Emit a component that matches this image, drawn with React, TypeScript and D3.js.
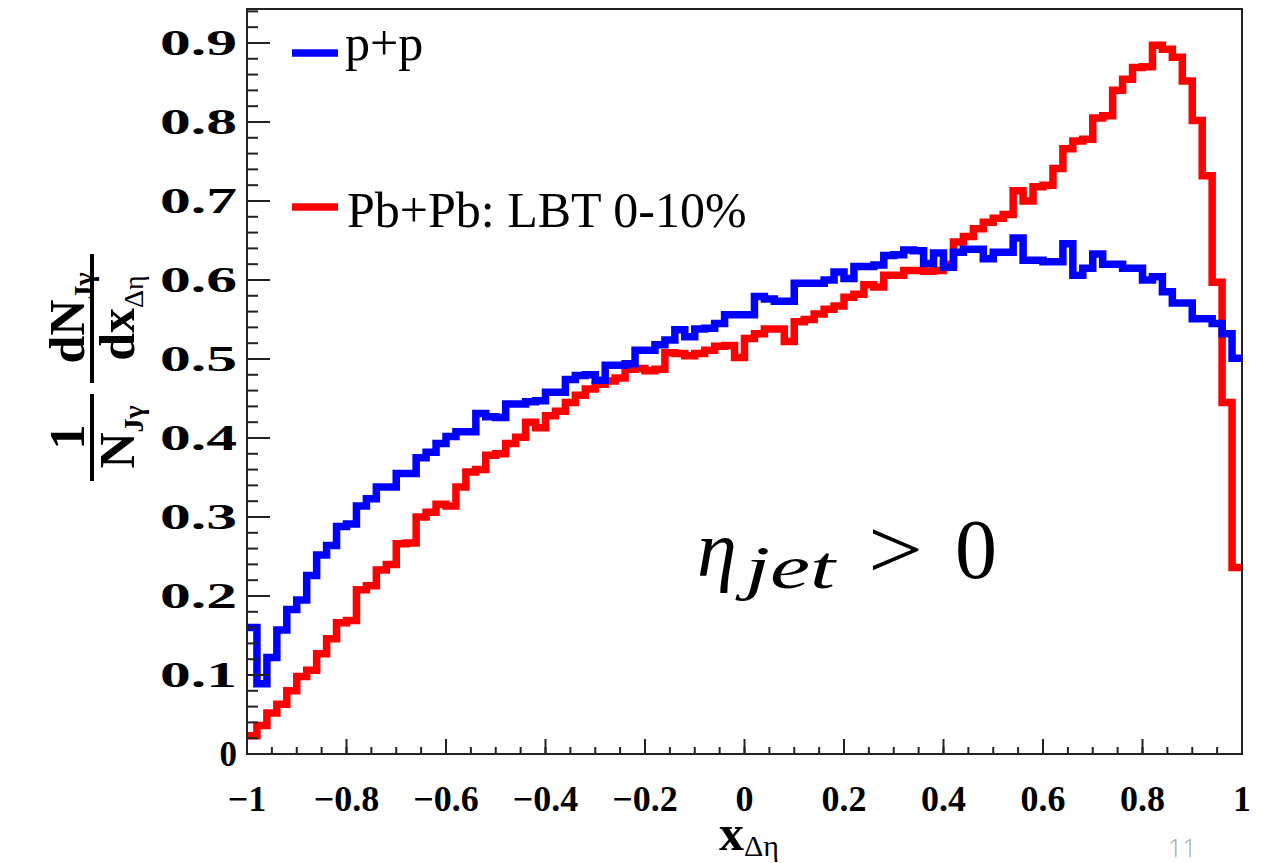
import React from 'react';
import * as d3 from 'd3';

// ---- data ----
const X_MIN = -1;
const X_MAX = 1;
const N_BINS = 100;

const xTickValues = [-1, -0.8, -0.6, -0.4, -0.2, 0, 0.2, 0.4, 0.6, 0.8, 1];
const xTickLabels = ['\u22121', '\u22120.8', '\u22120.6', '\u22120.4', '\u22120.2', '0', '0.2', '0.4', '0.6', '0.8', '1'];
const yTickValues = [0, 0.1, 0.2, 0.3, 0.4, 0.5, 0.6, 0.7, 0.8, 0.9];
const yTickLabels = ['0', '0.1', '0.2', '0.3', '0.4', '0.5', '0.6', '0.7', '0.8', '0.9'];

const seriesNames = ['p+p', 'Pb+Pb: LBT 0-10%'];

const ppValues = [
  0.160, 0.089, 0.122, 0.157, 0.183, 0.195, 0.226, 0.252, 0.264, 0.288,
  0.291, 0.314, 0.323, 0.338, 0.338, 0.355, 0.355, 0.375, 0.382, 0.393,
  0.402, 0.408, 0.408, 0.431, 0.427, 0.426, 0.443, 0.443, 0.446, 0.447,
  0.458, 0.458, 0.474, 0.479, 0.480, 0.473, 0.492, 0.492, 0.494, 0.511,
  0.511, 0.518, 0.524, 0.537, 0.528, 0.538, 0.539, 0.545, 0.556, 0.556,
  0.556, 0.579, 0.576, 0.573, 0.573, 0.596, 0.596, 0.596, 0.600, 0.610,
  0.602, 0.617, 0.617, 0.619, 0.631, 0.632, 0.638, 0.637, 0.621, 0.634,
  0.616, 0.635, 0.639, 0.639, 0.627, 0.635, 0.635, 0.653, 0.625, 0.625,
  0.623, 0.623, 0.646, 0.606, 0.615, 0.633, 0.620, 0.620, 0.615, 0.615,
  0.600, 0.604, 0.585, 0.571, 0.571, 0.551, 0.551, 0.545, 0.532, 0.501,
];

const pbpbValues = [
  0.023, 0.036, 0.052, 0.063, 0.080, 0.098, 0.106, 0.127, 0.146, 0.166,
  0.169, 0.208, 0.213, 0.233, 0.240, 0.266, 0.267, 0.300, 0.306, 0.316,
  0.314, 0.338, 0.357, 0.360, 0.378, 0.380, 0.393, 0.401, 0.420, 0.413,
  0.428, 0.434, 0.445, 0.454, 0.462, 0.468, 0.472, 0.476, 0.487, 0.488,
  0.485, 0.487, 0.508, 0.507, 0.504, 0.507, 0.511, 0.516, 0.517, 0.502,
  0.526, 0.532, 0.538, 0.538, 0.522, 0.547, 0.550, 0.557, 0.563, 0.567,
  0.578, 0.582, 0.594, 0.591, 0.606, 0.606, 0.612, 0.612, 0.611, 0.612,
  0.620, 0.648, 0.655, 0.665, 0.673, 0.678, 0.683, 0.713, 0.700, 0.718,
  0.720, 0.741, 0.766, 0.776, 0.778, 0.805, 0.808, 0.840, 0.854, 0.869,
  0.870, 0.897, 0.892, 0.882, 0.852, 0.802, 0.732, 0.597, 0.445, 0.236,
];

const BLUE = '#0000ff';
const RED = '#ff0000';

export default function App() {
  const W = 1273;
  const H = 863;
  const left = 247, right = 1242, top = 9, bottom = 754;

  const x = d3.scaleLinear().domain([X_MIN, X_MAX]).range([left, right]);
  const y = d3.scaleLinear().domain([0, 0.943]).range([bottom, top]);

  const edges = d3.range(N_BINS + 1).map((i) => X_MIN + (i * (X_MAX - X_MIN)) / N_BINS);
  const stepPts = (vals: number[]) =>
    vals.flatMap((v, i) => [[edges[i], v], [edges[i + 1], v]] as [number, number][]);
  const line = d3
    .line<[number, number]>()
    .x((d) => x(d[0]))
    .y((d) => y(d[1]));

  const yMinor = d3.range(0, 0.9401, 0.02);
  const xMinor = d3.range(-1, 1.0001, 0.05);

  const serif = '"Liberation Serif", "Times New Roman", serif';

  return (
    <svg
      width={W}
      height={H}
      viewBox={`0 0 ${W} ${H}`}
      style={{ position: 'absolute', left: 0, top: 0, background: '#fff', display: 'block' }}
      fontFamily={serif}
    >
      <rect x={0} y={0} width={W} height={H} fill="#fff" />

      {/* histograms */}
      <path d={line(stepPts(pbpbValues)) || ''} fill="none" stroke={RED} strokeWidth={7.5} strokeLinejoin="miter" />
      <path d={line(stepPts(ppValues)) || ''} fill="none" stroke={BLUE} strokeWidth={7.5} strokeLinejoin="miter" />

      {/* frame */}
      <rect x={left} y={top} width={right - left} height={bottom - top} fill="none" stroke="#222" strokeWidth={2} />

      {/* y ticks */}
      {yMinor.map((v, i) => (
        <line key={'ym' + i} x1={left} x2={left + 11} y1={y(v)} y2={y(v)} stroke="#222" strokeWidth={2} />
      ))}
      {yTickValues.map((v, i) => (
        <line key={'yM' + i} x1={left} x2={left + 23} y1={y(v)} y2={y(v)} stroke="#222" strokeWidth={2} />
      ))}
      {yTickValues.map((v, i) => (
        <text
          key={'yl' + i}
          x={237}
          y={y(v) + 12}
          textAnchor="end"
          fontSize={35}
          fontWeight="bold"
          fill="#000"
          {...(yTickLabels[i].length > 1 ? { textLength: 77, lengthAdjust: 'spacingAndGlyphs' } : {})}
        >
          {yTickLabels[i]}
        </text>
      ))}

      {/* x ticks */}
      {xMinor.map((v, i) => (
        <line key={'xm' + i} x1={x(v)} x2={x(v)} y1={bottom} y2={bottom - 7} stroke="#222" strokeWidth={2} />
      ))}
      {xTickValues.map((v, i) => (
        <line key={'xM' + i} x1={x(v)} x2={x(v)} y1={bottom} y2={bottom - 15} stroke="#222" strokeWidth={2} />
      ))}
      {xTickValues.map((v, i) => (
        <text key={'xl' + i} x={x(v)} y={811} textAnchor="middle" fontSize={36} fontWeight="bold" fill="#000">
          {xTickLabels[i]}
        </text>
      ))}

      {/* x title */}
      <text x={719} y={850} fontSize={50} fontWeight="bold" fill="#000">
        x
        <tspan fontSize={30} fontWeight="normal" dy={6}>
          {'\u0394\u03b7'}
        </tspan>
      </text>

      {/* y title (rotated) */}
      <g transform="translate(92,0) rotate(-90)">
        <text x={-437} y={-8} textAnchor="middle" fontSize={50} fontWeight="bold" fill="#000">
          1
        </text>
        <line x1={-481} x2={-394} y1={0} y2={0} stroke="#000" strokeWidth={4} />
        <text x={-437} y={42} textAnchor="middle" fontSize={50} fontWeight="bold" fill="#000">
          N
          <tspan fontSize={28} dy={9}>{'J\u03b3'}</tspan>
        </text>
        <text x={-318} y={-8} textAnchor="middle" fontSize={50} fontWeight="bold" fill="#000">
          dN
          <tspan fontSize={28} dy={9}>{'J\u03b3'}</tspan>
        </text>
        <line x1={-383} x2={-254} y1={0} y2={0} stroke="#000" strokeWidth={4} />
        <text x={-318} y={42} textAnchor="middle" fontSize={50} fontWeight="bold" fill="#000">
          dx
          <tspan fontSize={28} fontWeight="normal" dy={9}>{'\u0394\u03b7'}</tspan>
        </text>
      </g>

      {/* legend */}
      <line x1={292} x2={338} y1={53} y2={53} stroke={BLUE} strokeWidth={7.5} />
      <text x={345} y={60} fontSize={50} fill="#000">{seriesNames[0]}</text>
      <line x1={292} x2={338} y1={207} y2={207} stroke={RED} strokeWidth={7.5} />
      <text x={347} y={227} fontSize={50} fill="#000">{seriesNames[1]}</text>

      {/* annotation */}
      <text x={697} y={576} fontSize={80} fontStyle="italic" fill="#000">{'\u03b7'}</text>
      <text x={745} y={588} fontSize={62} fontStyle="italic" fill="#000" textLength={90} lengthAdjust="spacingAndGlyphs">jet</text>
      <text x={868} y={578} fontSize={84} fill="#000" textLength={55} lengthAdjust="spacingAndGlyphs">{'>'}</text>
      <text x={955} y={578} fontSize={84} fill="#000">0</text>

      {/* page number */}
      <text x={1168} y={857} fontSize={25} fill="#a6a6a6" fontFamily='"Open Sans", "Liberation Sans", sans-serif' fontWeight={300}>
        11
      </text>
    </svg>
  );
}
